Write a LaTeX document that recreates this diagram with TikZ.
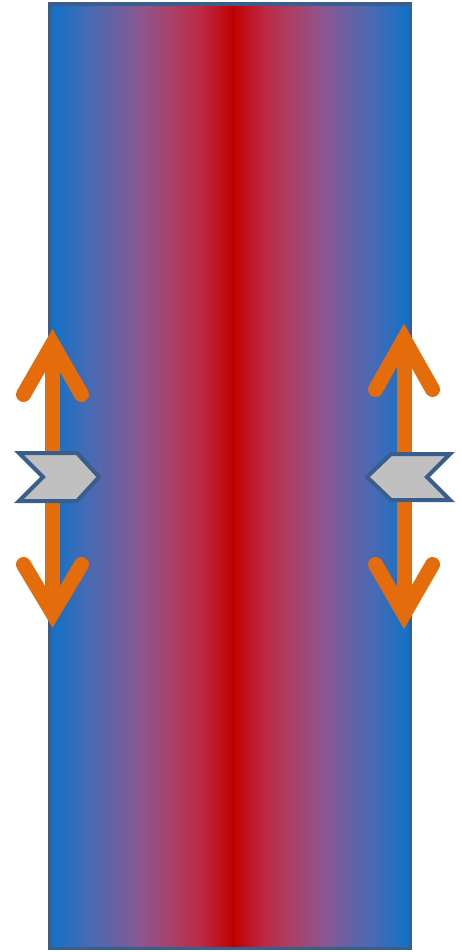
\documentclass[tikz,border=0pt]{standalone}
\usetikzlibrary{calc}
\definecolor{ca}{HTML}{0E72C8}
\definecolor{cb}{HTML}{4A6AB4}
\definecolor{cc}{HTML}{6E5FA0}
\definecolor{cd}{HTML}{8C5590}
\definecolor{ce}{HTML}{A8426A}
\definecolor{cf}{HTML}{BC2A45}
\definecolor{cg}{HTML}{C00000}
\definecolor{frame}{HTML}{3A5E8C}
\definecolor{arrorange}{HTML}{E46C0A}
\definecolor{chevfill}{HTML}{C0C0C0}
\tikzset{
  arrowline/.style={draw=arrorange, line width=15pt, line cap=round, line join=miter},
  shaftline/.style={draw=arrorange, line width=15pt},
  chev/.style={draw=frame, fill=chevfill, line width=4pt, line join=miter},
  framebox/.style={draw=frame, line width=3.5pt}
}
\newcommand{\gstrip}[4]{\shade[left color=#3, right color=#4] (#1,4) rectangle (#2,948.5);}
\begin{document}
\begin{tikzpicture}[x=1pt,y=-1pt]
\useasboundingbox (0,0) rectangle (461,952);
% gradient body, left half
\gstrip{49.5}{90.3}{ca}{cb}
\gstrip{90}{120.3}{cb}{cc}
\gstrip{120}{140.3}{cc}{cd}
\gstrip{140}{170.3}{cd}{ce}
\gstrip{170}{200.3}{ce}{cf}
\gstrip{200}{233.3}{cf}{cg}
% right half
\gstrip{233}{265.3}{cg}{cf}
\gstrip{265}{294.3}{cf}{ce}
\gstrip{294}{323.3}{ce}{cd}
\gstrip{323}{342.3}{cd}{cc}
\gstrip{342}{371.3}{cc}{cb}
\gstrip{371}{410.5}{cb}{ca}
\draw[draw=cg!92!black, line width=1.2pt] (233,4) -- (233,948.5);
\draw[framebox] (49.5,4) rectangle (410.5,948.5);
% left double arrow
\draw[shaftline] (52.5,344) -- (52.5,613);
\draw[arrowline] (23.5,394.5) -- (52.5,344) -- (81.5,394.5);
\draw[arrowline] (23.5,564.5) -- (52.5,613) -- (81.5,564.5);
% right double arrow
\draw[shaftline] (404,339) -- (404,614);
\draw[arrowline] (375.5,389.5) -- (404,339) -- (432.5,389.5);
\draw[arrowline] (375.5,564.5) -- (404,614) -- (432.5,564.5);
% chevrons
\draw[chev] (19,453) -- (77,453) -- (99,477) -- (77,501) -- (19,501) -- (43,477) -- cycle;
\draw[chev] (391,454) -- (450,454) -- (427,477) -- (450,500) -- (391,500) -- (367,477) -- cycle;
\end{tikzpicture}
\end{document}
